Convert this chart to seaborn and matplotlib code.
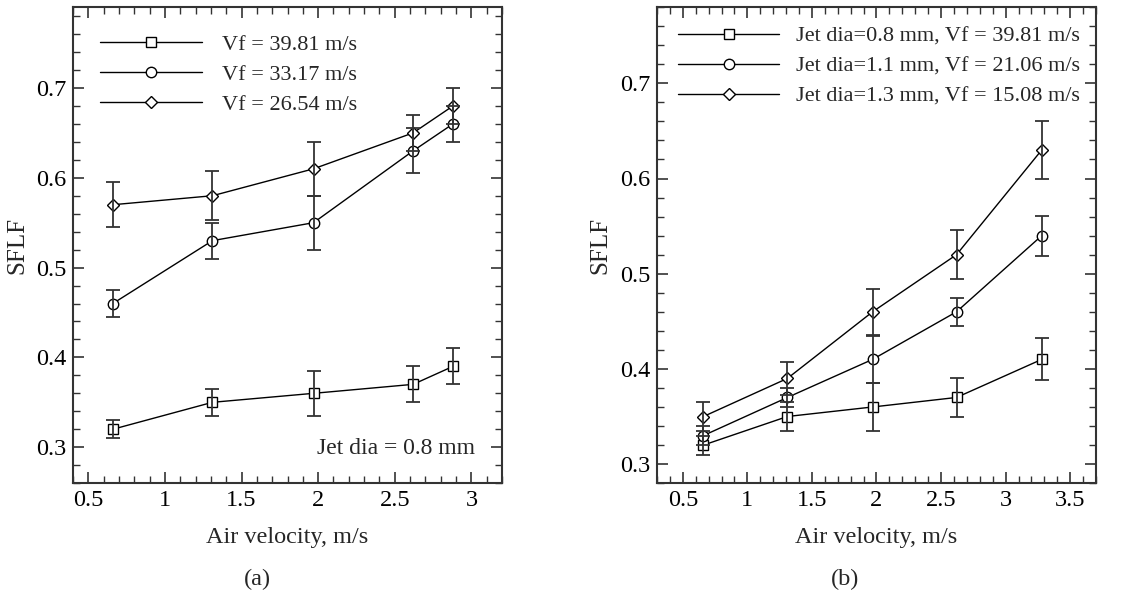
import seaborn as sns
import matplotlib.pyplot as plt
from matplotlib.ticker import MultipleLocator

# panel (a): jet dia 0.8 mm
air_a = [0.66, 1.31, 1.97, 2.62, 2.88]
sflf_a1 = [0.32, 0.35, 0.36, 0.37, 0.39]
err_a1 = [0.01, 0.015, 0.025, 0.02, 0.02]
sflf_a2 = [0.46, 0.53, 0.55, 0.63, 0.66]
err_a2 = [0.015, 0.02, 0.03, 0.025, 0.02]
sflf_a3 = [0.57, 0.58, 0.61, 0.65, 0.68]
err_a3 = [0.025, 0.027, 0.03, 0.02, 0.02]
labels_a = ["Vf = 39.81 m/s", "Vf = 33.17 m/s", "Vf = 26.54 m/s"]

# panel (b): different jet diameters
air_b = [0.66, 1.31, 1.97, 2.62, 3.28]
sflf_b1 = [0.32, 0.35, 0.36, 0.37, 0.41]
err_b1 = [0.01, 0.015, 0.025, 0.02, 0.022]
sflf_b2 = [0.33, 0.37, 0.41, 0.46, 0.54]
err_b2 = [0.01, 0.01, 0.025, 0.015, 0.021]
sflf_b3 = [0.35, 0.39, 0.46, 0.52, 0.63]
err_b3 = [0.015, 0.017, 0.024, 0.026, 0.03]
labels_b = ["Jet dia=0.8 mm, Vf = 39.81 m/s",
            "Jet dia=1.1 mm, Vf = 21.06 m/s",
            "Jet dia=1.3 mm, Vf = 15.08 m/s"]

markers = ['s', 'o', 'D']
msizes = [6.5, 7.5, 6.2]

sns.set_style("ticks")
plt.rcParams['font.family'] = ['Liberation Serif', 'DejaVu Serif']

fig = plt.figure(figsize=(11.48, 5.95), dpi=100)
ax_a = fig.add_axes([0.0636, 0.188, 0.3737, 0.8])
ax_b = fig.add_axes([0.5723, 0.188, 0.3824, 0.8])


def draw_panel(ax, x, series, errs, labels):
    for vals, err, mk, ms, lab in zip(series, errs, markers, msizes, labels):
        sns.lineplot(x=x, y=vals, marker=mk, markersize=ms, mfc='white',
                     mec='black', mew=1.0, color='black', lw=1.0,
                     label=lab, ax=ax, zorder=2)
        ax.errorbar(x, vals, yerr=err, fmt='none', ecolor='#333333',
                    elinewidth=1.3, capsize=4.8, capthick=1.3, zorder=3)
    ax.tick_params(which='both', direction='in', top=True, right=True,
                   labelsize=17.5, colors='#333333', labelcolor='black')
    ax.tick_params(which='major', length=8, width=1.2, pad=5)
    ax.tick_params(which='minor', length=5, width=1.0)
    ax.xaxis.set_major_locator(MultipleLocator(0.5))
    ax.xaxis.set_minor_locator(MultipleLocator(0.1))
    ax.yaxis.set_major_locator(MultipleLocator(0.1))
    ax.yaxis.set_minor_locator(MultipleLocator(0.02))
    ax.xaxis.set_major_formatter(lambda v, _: f"{v:g}")
    ax.yaxis.set_major_formatter(lambda v, _: f"{v:g}")
    for sp in ax.spines.values():
        sp.set_color('#333333')
        sp.set_linewidth(1.5)
    ax.set_xlabel("Air velocity, m/s", fontsize=17.5)
    ax.set_ylabel("SFLF", fontsize=18)


draw_panel(ax_a, air_a, [sflf_a1, sflf_a2, sflf_a3], [err_a1, err_a2, err_a3], labels_a)
draw_panel(ax_b, air_b, [sflf_b1, sflf_b2, sflf_b3], [err_b1, err_b2, err_b3], labels_b)

ax_a.set_xlim(0.4, 3.2)
ax_a.set_ylim(0.26, 0.79)
ax_b.set_xlim(0.3, 3.7)
ax_b.set_ylim(0.28, 0.78)

ax_a.legend(loc='upper left', bbox_to_anchor=(0.063, 0.943), frameon=False,
            fontsize=16, handlelength=4.6, handletextpad=0.9, labelspacing=0.43,
            borderpad=0, borderaxespad=0)
ax_b.legend(loc='upper left', bbox_to_anchor=(0.048, 0.96), frameon=False,
            fontsize=16, handlelength=4.55, handletextpad=0.77, labelspacing=0.43,
            borderpad=0, borderaxespad=0)

ax_a.text(0.937, 0.0735, "Jet dia = 0.8 mm", transform=ax_a.transAxes,
          ha='right', va='center', fontsize=17)

for ax in (ax_a, ax_b):
    ax.xaxis.set_label_coords(0.5, -0.093)
    ax.yaxis.set_label_coords(-0.105, 0.5)

fig.text(257 / 1148, 1 - 579 / 595, "(a)", ha='center', va='center', fontsize=17.5)
fig.text(845 / 1148, 1 - 579 / 595, "(b)", ha='center', va='center', fontsize=17.5)

fig.savefig("out.png", dpi=100, facecolor='white')
